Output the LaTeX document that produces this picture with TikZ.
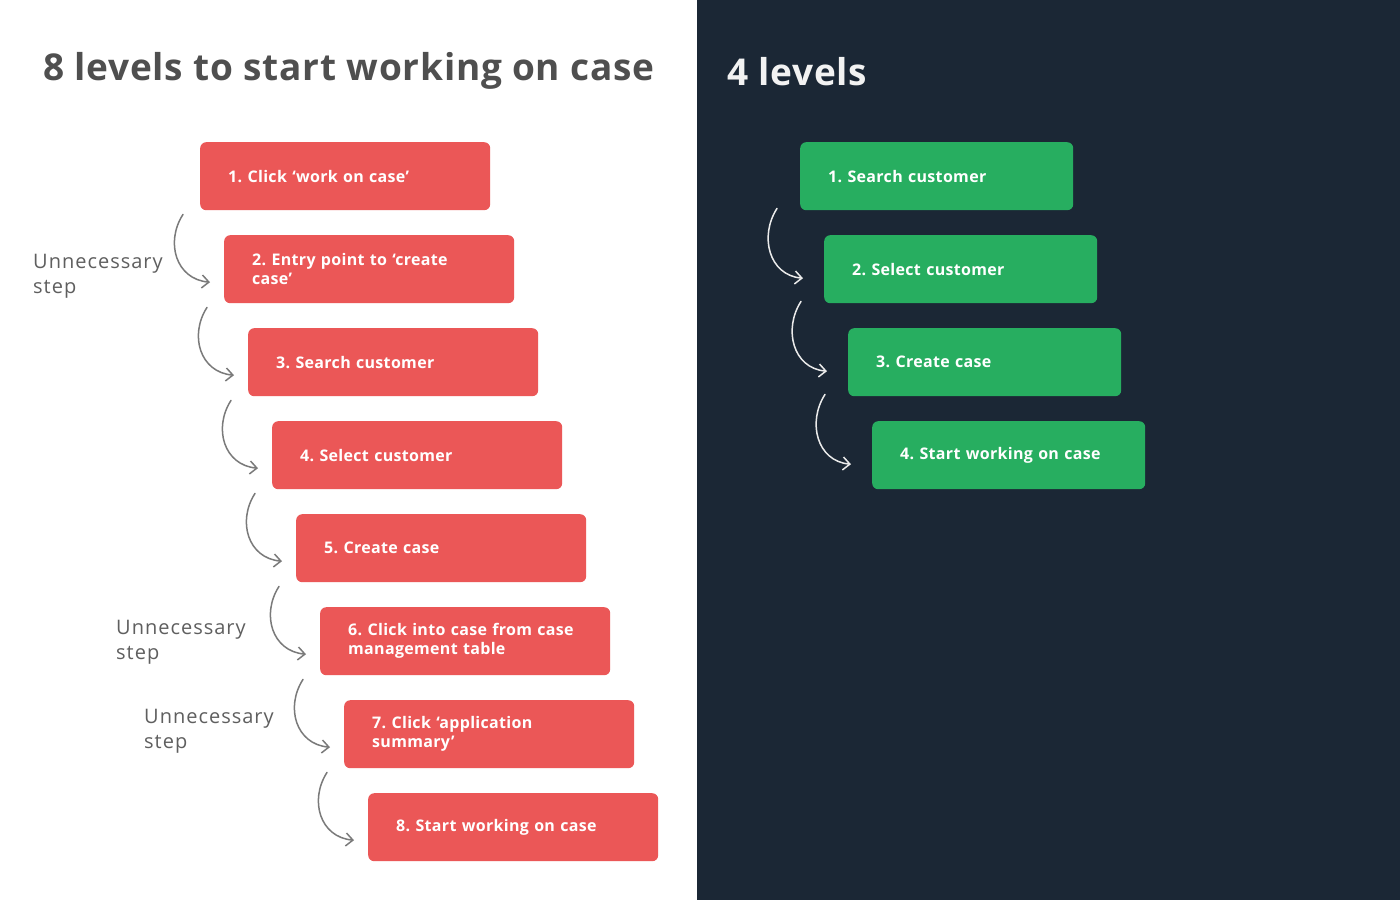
\documentclass[tikz,border=0pt]{standalone}
\usepackage{fontspec}
\setmainfont{Open Sans}
\usetikzlibrary{positioning,calc,arrows.meta}

\definecolor{stepred}{HTML}{EB5757}
\definecolor{stepgreen}{HTML}{27AE60}
\definecolor{navy}{HTML}{1B2735}
\definecolor{titlegray}{HTML}{4F4F4F}
\definecolor{notegray}{HTML}{5F5F5F}
\definecolor{curvegray}{HTML}{7A7A7A}

\begin{document}
\frenchspacing
\begin{tikzpicture}[x=1pt, y=-1pt, >={Straight Barb[length=7pt,width=13pt]},
    every node/.style={font=\fontsize{16}{19}\selectfont\bfseries\addfontfeatures{LetterSpace=2}},
    redbox/.style={anchor=north west, fill=stepred, text=white, rounded corners=6pt, text width=234pt, inner xsep=28pt, inner ysep=0pt, minimum height=68pt, align=left},
    greenbox/.style={redbox, fill=stepgreen, text width=217pt},
    flow/.style={->, line width=1.5pt, line cap=round},
    heading/.style={anchor=west, inner sep=0pt, font=\fontsize{37}{40}\selectfont\bfseries\addfontfeatures{LetterSpace=2}},
    note/.style={anchor=west, align=left, inner sep=0pt, text=notegray, font=\fontsize{20}{25}\selectfont\addfontfeatures{LetterSpace=5}}]
    \useasboundingbox (0,0) rectangle (1400,900);
    \fill[white] (0,0) rectangle (697,900);
    \fill[navy] (697,0) rectangle (1400,900);
    % titles
    \node[heading, text=titlegray] (lefttitle) at (43,71) {8 levels to start working on case};
    \node[heading, text=white!95!black] (righttitle) at (727,72) {4 levels};
    % eight steps today
    \foreach \txt [count=\k] in {1. Click ‘work on case’, 2. Entry point to ‘create\\case’, 3. Search customer, 4. Select customer, 5. Create case, 6. Click into case from case\\management table, 7. Click ‘application\\summary’, 8. Start working on case} {
      \node[redbox] (r\k) at ({200+24*(\k-1)},{142+93*(\k-1)}) {\txt};
    }
    \foreach \k in {1,...,7} {
      \pgfmathtruncatemacro\n{\k+1}
      \draw[flow, curvegray] ($(r\k.south west)+(-17,4)$) .. controls +(-18,28) and +(-34,-3) .. ($(r\n.west)+(-14,13)$);
    }
    \node[note] (note1) at (33,276) {Unnecessary\\step};
    \node[note] (note2) at (116,642) {Unnecessary\\step};
    \node[note] (note3) at (144,731) {Unnecessary\\step};
    % four steps proposed
    \foreach \txt [count=\k] in {1. Search customer, 2. Select customer, 3. Create case, 4. Start working on case} {
      \node[greenbox] (g\k) at ({800+24*(\k-1)},{142+93*(\k-1)}) {\txt};
    }
    \foreach \k in {1,2,3} {
      \pgfmathtruncatemacro\n{\k+1}
      \draw[flow, white!92!black] ($(g\k.south west)+(-23,-2)$) .. controls +(-18,28) and +(-34,-3) .. ($(g\n.west)+(-21,9)$);
    }
  \end{tikzpicture}
\end{document}
